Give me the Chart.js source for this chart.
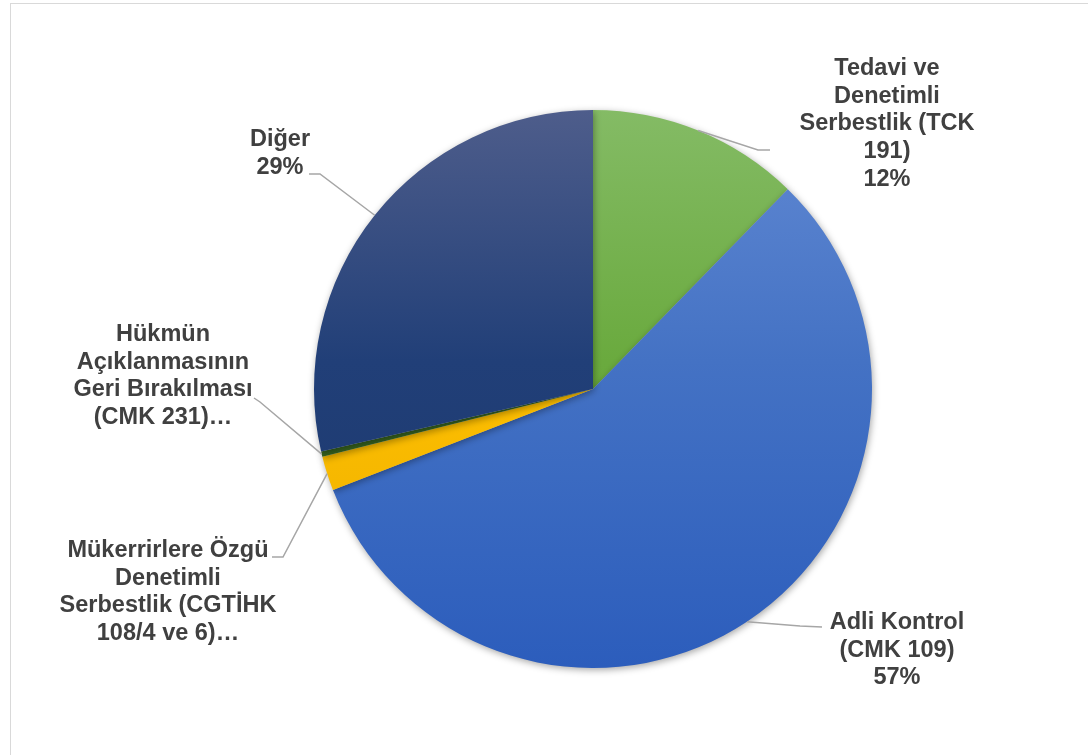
<!DOCTYPE html>
<html>
<head>
<meta charset="utf-8">
<script src="https://cdn.jsdelivr.net/npm/chart.js@4"></script>
<style>
  html, body { margin: 0; padding: 0; background: #fff; }
  #frame { position: absolute; left: 10px; top: 3px; width: 1100px; height: 780px; border: 1px solid #d9d9d9; }
  #wrap { position: absolute; left: 0; top: 0; width: 1088px; height: 755px; }
</style>
</head>
<body>
<div id="frame"></div>
<div id="wrap"><canvas id="myPie"></canvas></div>
<script>
// categories (label lines as they wrap in the picture)
const categories = [
  ['Tedavi ve', 'Denetimli', 'Serbestlik (TCK', '191)'],
  ['Adli Kontrol', '(CMK 109)'],
  ['Mükerrirlere Özgü', 'Denetimli', 'Serbestlik (CGTİHK', '108/4 ve 6)…'],
  ['Hükmün', 'Açıklanmasının', 'Geri Bırakılması', '(CMK 231)…'],
  ['Diğer']
];
const values = [12.3, 56.8, 2.0, 0.3, 28.6];
const showPercent = [true, true, false, false, true];

// slice colours: top / middle / bottom of the vertical gradient
const topColors = ['#84bb65', '#6189d3', '#ffd040', '#4a7a2c', '#4e5d8b'];
const midColors = ['#6aaa3e', '#4472c4', '#ffc000', '#38631f', '#213f78'];
const bottomColors = ['#5f9e2f', '#2c5dbc', '#e8ab00', '#2f5a1a', '#1b376b'];

// where each label sits: centre x, first line baseline y, leader elbow + end
const labelLayout = [
  { x: 887, y: 75, elbow: [758, 150], end: [770, 150] },
  { x: 897, y: 629, elbow: [800, 626], end: [822, 627] },
  { x: 168, y: 557, elbow: [283, 557], end: [272, 557] },
  { x: 163, y: 341, elbow: [260, 402], end: [254, 398] },
  { x: 280, y: 146, elbow: [320, 174], end: [309, 174] }
];

function sliceGradient(context) {
  const i = context.dataIndex;
  const chart = context.chart;
  const area = chart.chartArea;
  if (!area) return midColors[i];
  const g = chart.ctx.createLinearGradient(0, area.top, 0, area.bottom);
  g.addColorStop(0, topColors[i]);
  g.addColorStop(0.45, midColors[i]);
  g.addColorStop(1, bottomColors[i]);
  return g;
}

const shadowPlugin = {
  id: 'shadow',
  beforeDatasetDraw(chart) {
    const ctx = chart.ctx;
    ctx.save();
    ctx.shadowColor = 'rgba(0,0,0,0.35)';
    ctx.shadowBlur = 7;
    ctx.shadowOffsetX = 1;
    ctx.shadowOffsetY = 2;
  },
  afterDatasetDraw(chart) {
    chart.ctx.restore();
  }
};

const labelPlugin = {
  id: 'pieLabels',
  afterDatasetsDraw(chart) {
    const ctx = chart.ctx;
    const meta = chart.getDatasetMeta(0);
    const total = values.reduce((a, b) => a + b, 0);
    meta.data.forEach((arc, i) => {
      const p = arc.getProps(['x', 'y', 'startAngle', 'endAngle', 'outerRadius'], true);
      const mid = (p.startAngle + p.endAngle) / 2;
      const sx = p.x + Math.cos(mid) * p.outerRadius;
      const sy = p.y + Math.sin(mid) * p.outerRadius;
      const lay = labelLayout[i];

      ctx.save();
      ctx.strokeStyle = '#a6a6a6';
      ctx.lineWidth = 1.5;
      ctx.beginPath();
      ctx.moveTo(sx, sy);
      ctx.lineTo(lay.elbow[0], lay.elbow[1]);
      ctx.lineTo(lay.end[0], lay.end[1]);
      ctx.stroke();

      let lines = categories[i].slice();
      if (showPercent[i]) lines.push(Math.round(values[i] / total * 100) + '%');
      ctx.fillStyle = '#404040';
      ctx.font = 'bold 23.5px Arial, "Liberation Sans", sans-serif';
      ctx.textAlign = 'center';
      ctx.textBaseline = 'alphabetic';
      lines.forEach((t, k) => ctx.fillText(t, lay.x, lay.y + k * 27.7));
      ctx.restore();
    });
  }
};

new Chart(document.getElementById('myPie'), {
  type: 'pie',
  data: {
    labels: categories,
    datasets: [{
      data: values,
      backgroundColor: sliceGradient,
      borderWidth: 0
    }]
  },
  options: {
    responsive: true,
    maintainAspectRatio: false,
    animation: false,
    layout: { padding: { left: 300, right: 202, top: 110, bottom: 87 } },
    plugins: {
      legend: { display: false },
      tooltip: { enabled: false }
    }
  },
  plugins: [shadowPlugin, labelPlugin]
});
</script>
</body>
</html>
